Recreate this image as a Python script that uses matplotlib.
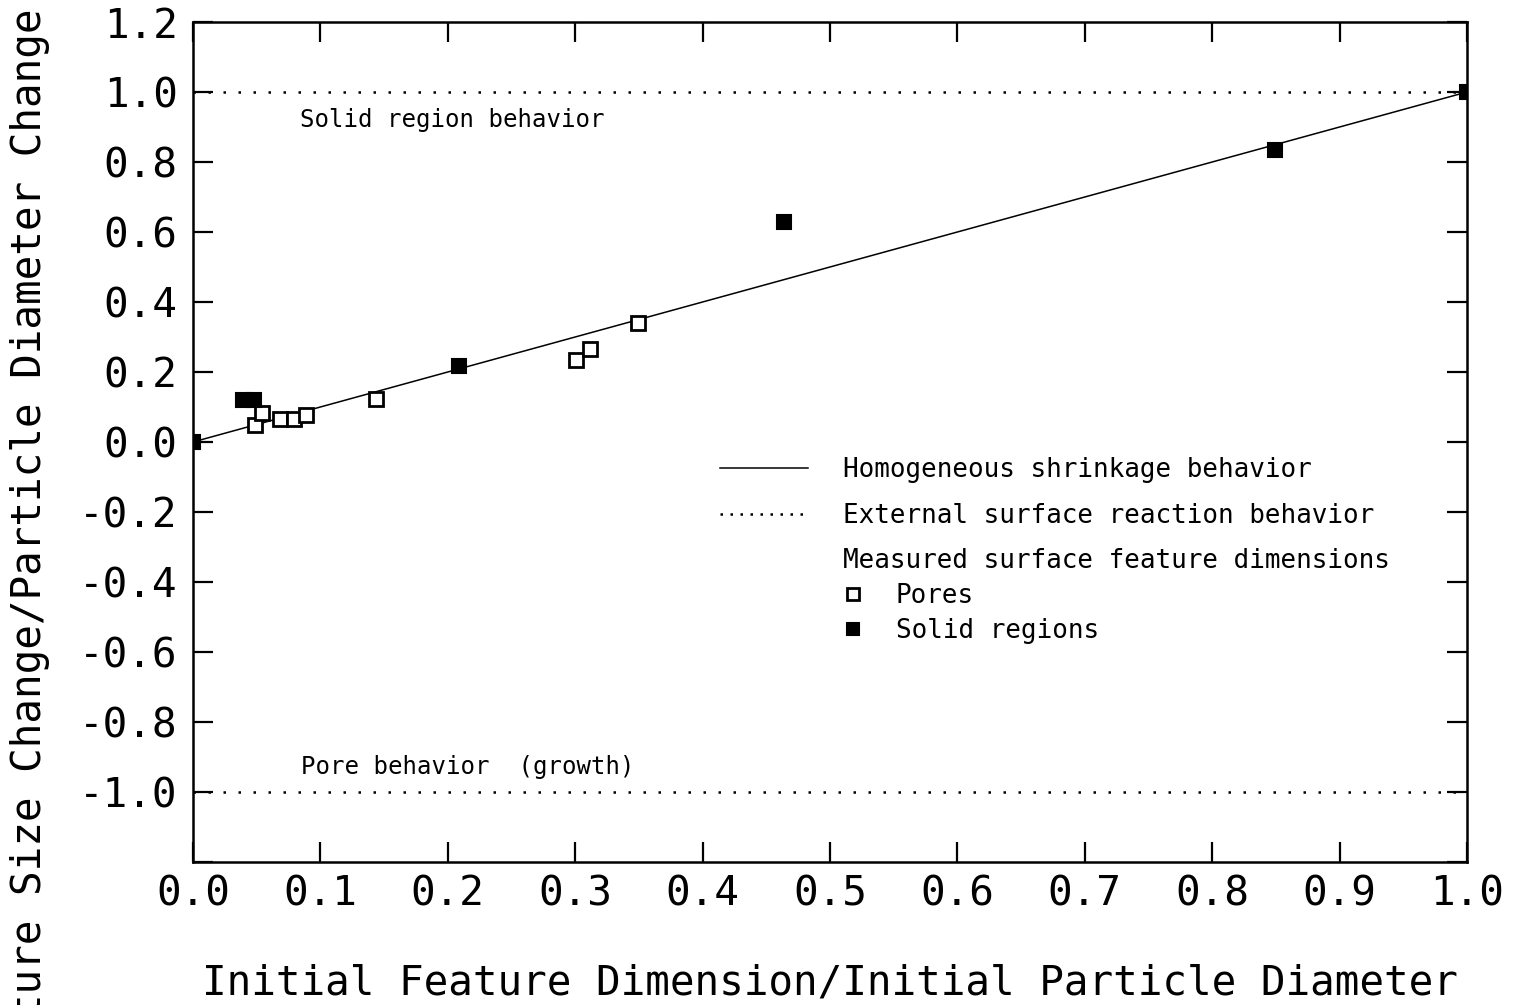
import matplotlib
matplotlib.use("Agg")
import matplotlib.pyplot as plt
from matplotlib.lines import Line2D

# measured surface features
pore_x = [0.049, 0.054, 0.068, 0.079, 0.089, 0.144, 0.301, 0.312, 0.349]
pore_y = [0.049, 0.083, 0.066, 0.066, 0.077, 0.123, 0.235, 0.266, 0.341]
solid_x = [0.0, 0.039, 0.048, 0.209, 0.464, 0.849, 1.0]
solid_y = [0.0, 0.12, 0.12, 0.218, 0.630, 0.834, 1.0]

# model curves
homog_x = [0.0, 1.0]
homog_y = [0.0, 1.0]
ext_x = [0.0, 1.0]
ext_solid_y = [1.0, 1.0]
ext_pore_y = [-1.0, -1.0]

x_ticks = [0.0, 0.1, 0.2, 0.3, 0.4, 0.5, 0.6, 0.7, 0.8, 0.9, 1.0]
x_labels = ["0.0", "0.1", "0.2", "0.3", "0.4", "0.5", "0.6", "0.7", "0.8", "0.9", "1.0"]
y_ticks = [-1.2, -1.0, -0.8, -0.6, -0.4, -0.2, 0.0, 0.2, 0.4, 0.6, 0.8, 1.0, 1.2]
y_labels = ["", "-1.0", "-0.8", "-0.6", "-0.4", "-0.2", "0.0", "0.2", "0.4", "0.6", "0.8", "1.0", "1.2"]

plt.rcParams.update({
    "font.family": "DejaVu Sans Mono",
    "axes.unicode_minus": False,
})

fig = plt.figure(figsize=(15.23, 10.05), dpi=100)
ax = fig.add_axes([0.1267, 0.1423, 0.8365, 0.8358])

line_h, = ax.plot(homog_x, homog_y, color="black", lw=1.1)
ax.plot(ext_x, ext_solid_y, color="black", lw=1.8, linestyle=(0, (1, 5)))
ax.plot(ext_x, ext_pore_y, color="black", lw=1.8, linestyle=(0, (1, 5)))

pore_h, = ax.plot(pore_x, pore_y, linestyle="none", marker="s", ms=10,
                  mfc="white", mec="black", mew=2.0, zorder=3)
solid_h, = ax.plot(solid_x, solid_y, linestyle="none", marker="s", ms=10,
                   mfc="black", mec="black", mew=1.5, zorder=4)

ax.set_xlim(0.0, 1.0)
ax.set_ylim(-1.2, 1.2)
ax.set_xticks(x_ticks)
ax.set_xticklabels(x_labels)
ax.set_yticks(y_ticks)
ax.set_yticklabels(y_labels)
ax.tick_params(axis="both", direction="in", length=14.5, width=1.6,
               labelsize=29.5, top=True, right=True)
ax.tick_params(axis="x", pad=9)
ax.tick_params(axis="y", pad=11)
for sp in ax.spines.values():
    sp.set_linewidth(1.8)

ax.text(0.084, 0.92, "Solid region behavior", fontsize=17.3,
        ha="left", va="center")
ax.text(0.085, -0.928, "Pore behavior  (growth)", fontsize=17.3,
        ha="left", va="center")

# legend handle for the dotted curve uses a tighter dot pitch, as in the original
dot_key = Line2D([], [], color="black", lw=1.8, linestyle=(0, (1, 3)))
blank = Line2D([], [], color="none")
leg1 = ax.legend(
    [line_h, dot_key, blank],
    ["Homogeneous shrinkage behavior",
     "External surface reaction behavior",
     "Measured surface feature dimensions"],
    loc="upper left", bbox_to_anchor=(0.4137, 0.482), frameon=False,
    fontsize=18.7, handlelength=3.4, handletextpad=1.35, labelspacing=0.75,
    borderpad=0, borderaxespad=0,
)
ax.add_artist(leg1)
ax.legend(
    [pore_h, solid_h], ["Pores", "Solid regions"],
    loc="upper left", bbox_to_anchor=(0.508, 0.332), frameon=False,
    fontsize=18.7, handlelength=1.0, handletextpad=1.15, labelspacing=0.35,
    borderpad=0, borderaxespad=0, markerscale=0.8,
)

fig.text(0.545, 0.010, "Initial Feature Dimension/Initial Particle Diameter",
         fontsize=29.5, ha="center", va="baseline")
fig.text(0.020, 0.452, "Feature Size Change/Particle Diameter Change",
         fontsize=29.5, rotation=90, ha="center", va="center")

fig.savefig("out.png", dpi=100, facecolor="white")
